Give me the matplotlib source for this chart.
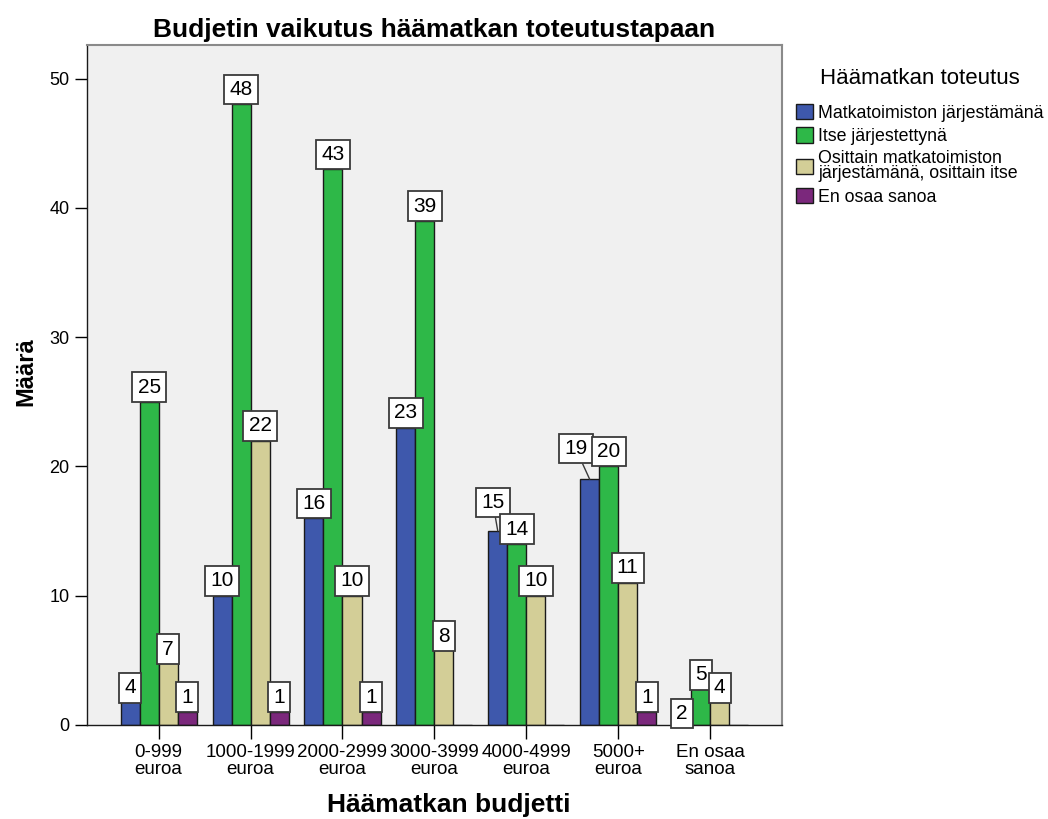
import matplotlib
matplotlib.use('Agg')
import matplotlib.pyplot as plt
import numpy as np
from matplotlib.patches import Patch

plt.rcParams['font.family'] = ['Liberation Sans', 'DejaVu Sans']

# Categories and counts per series
categories = ['0-999\neuroa', '1000-1999\neuroa', '2000-2999\neuroa', '3000-3999\neuroa',
              '4000-4999\neuroa', '5000+\neuroa', 'En osaa\nsanoa']
series_names = ['Matkatoimiston järjestämänä', 'Itse järjestettynä',
                'Osittain matkatoimiston\njärjestämänä, osittain itse', 'En osaa sanoa']
matkatoimisto = [4, 10, 16, 23, 15, 19, 2]
itse = [25, 48, 43, 39, 14, 20, 5]
osittain = [7, 22, 10, 8, 10, 11, 4]
en_osaa = [1, 1, 1, 0, 0, 1, 0]

colors = ['#3E58AC', '#2EB848', '#D3CE97', '#7B287C']

# Label placement tweaks (category, series) -> 'inside' or pixel offset with leader
inside_labels = {(0, 0), (0, 2), (3, 2), (6, 0), (6, 1), (6, 2)}
leader_labels = {(4, 0): (-5, 14), (5, 0): (-14, 16)}

fig = plt.figure(figsize=(10.48, 8.19), dpi=100)
ax = fig.add_axes([0.083, 0.115, 0.663, 0.83])
ax.set_facecolor('#F0F0F0')

x = np.arange(len(categories))
width = 0.207
all_series = [matkatoimisto, itse, osittain, en_osaa]
label_fs = 15
pad = 0.25
pad_px = pad * label_fs * 100 / 72

for i, vals in enumerate(all_series):
    pos = x + (i - 1.5) * width
    ax.bar(pos, vals, width, color=colors[i], edgecolor='#1a1a1a', linewidth=1, zorder=2)
    for j, v in enumerate(vals):
        if v == 0:
            continue
        bbox = dict(boxstyle='square,pad=%s' % pad, fc='white', ec='#3a3a3a', lw=1.3)
        if (j, i) in inside_labels:
            ax.annotate(str(v), (pos[j], v), xytext=(0, -pad_px), textcoords='offset pixels',
                        ha='center', va='top', fontsize=label_fs, bbox=bbox, zorder=5)
        elif (j, i) in leader_labels:
            dx, dy = leader_labels[(j, i)]
            ax.annotate(str(v), (pos[j], v), xytext=(dx, dy + pad_px), textcoords='offset pixels',
                        ha='center', va='bottom', fontsize=label_fs, bbox=bbox, zorder=5,
                        arrowprops=dict(arrowstyle='-', color='#3a3a3a', lw=1,
                                        shrinkA=0, shrinkB=0))
        else:
            ax.annotate(str(v), (pos[j], v), xytext=(0, pad_px), textcoords='offset pixels',
                        ha='center', va='bottom', fontsize=label_fs, bbox=bbox, zorder=5)

ax.set_xlim(-0.78, 6.78)
ax.set_ylim(0, 52.6)
ax.set_xticks(x)
ax.set_xticklabels(categories, fontsize=13.5, linespacing=0.95)
ax.set_yticks(range(0, 51, 10))
ax.tick_params(axis='y', labelsize=13, length=9, width=1)
ax.tick_params(axis='x', length=10, width=1, pad=4)

for s in ['top', 'right']:
    ax.spines[s].set_color('#8a8a8a')
    ax.spines[s].set_linewidth(1.5)
for s in ['left', 'bottom']:
    ax.spines[s].set_color('#1a1a1a')
    ax.spines[s].set_linewidth(1)

ax.set_title('Budjetin vaikutus häämatkan toteutustapaan', fontsize=19, fontweight='bold', pad=6)
ax.set_ylabel('Määrä', fontsize=17, fontweight='bold')
ax.yaxis.set_label_coords(-0.072, 0.52)
ax.set_xlabel('Häämatkan budjetti', fontsize=19, fontweight='bold')
ax.xaxis.set_label_coords(0.52, -0.1)

handles = [Patch(facecolor=c, edgecolor='#1a1a1a', linewidth=1) for c in colors]
leg = fig.legend(handles, series_names, loc='upper left', bbox_to_anchor=(0.751, 0.928),
                 frameon=False, title='Häämatkan toteutus', title_fontsize=16, fontsize=12.8,
                 handlelength=0.95, handleheight=0.95, handletextpad=0.3, labelspacing=0.3,
                 borderpad=0)
leg._legend_box.align = 'center'
leg._legend_box.sep = 11
for t in leg.get_texts():
    t.set_linespacing(0.85)

fig.savefig('out.png', dpi=100)
